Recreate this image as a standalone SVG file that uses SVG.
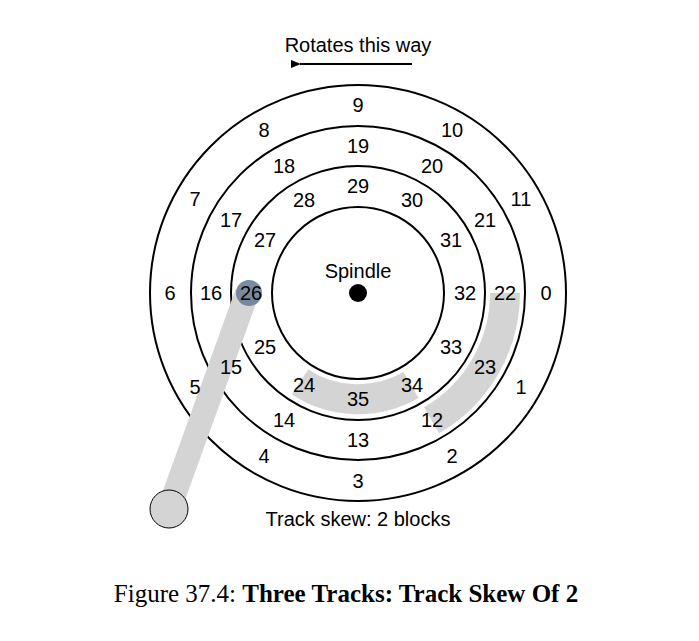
<svg xmlns="http://www.w3.org/2000/svg" width="699" height="641" viewBox="0 0 699 641">
<style>
.n{font-family:"Liberation Sans",Arial,sans-serif;font-size:20px;text-anchor:middle;dominant-baseline:central;fill:#000}
.r{fill:none;stroke:#000;stroke-width:2}
.band{fill:none;stroke:#d4d4d4;stroke-linecap:butt}
</style>
<defs><marker id="ah" markerWidth="10" markerHeight="8" refX="1" refY="4" orient="auto" markerUnits="userSpaceOnUse"><path d="M10,0 L0,4 L10,8 Z" fill="#000"/></marker></defs>
<rect width="699" height="641" fill="#fff"/>
<g id="bands">
<path class="band" stroke-width="30" d="M411,385 A106,106 0 0 1 300,382"/>
<path class="band" stroke-width="30" d="M505,293 A147,147 0 0 1 431.5,420.3"/>
</g>
<g id="tracks">
<circle class="r" cx="358" cy="293" r="208"/>
<circle class="r" cx="358" cy="293" r="167"/>
<circle class="r" cx="358" cy="293" r="127"/>
<circle class="r" cx="358" cy="293" r="86"/>
<circle cx="358" cy="293" r="9" fill="#000"/>
<text class="n" x="358" y="271">Spindle</text>
</g>
<g id="arm">
<line x1="169" y1="509" x2="247" y2="293" stroke="#d4d4d4" stroke-width="24"/>
<circle cx="169" cy="509" r="19" fill="#d4d4d4" stroke="#000" stroke-width="1"/>
<circle cx="249" cy="293" r="13" fill="#6c7f98" opacity="0.9"/>
</g>
<g id="labels">
<text class="n" x="546" y="293">0</text><text class="n" x="521" y="387">1</text><text class="n" x="452" y="456">2</text><text class="n" x="358" y="481">3</text><text class="n" x="264" y="456">4</text><text class="n" x="195" y="387">5</text><text class="n" x="170" y="293">6</text><text class="n" x="195" y="199">7</text><text class="n" x="264" y="130">8</text><text class="n" x="358" y="105">9</text><text class="n" x="452" y="130">10</text><text class="n" x="521" y="199">11</text>
<text class="n" x="432" y="420">12</text><text class="n" x="358" y="440">13</text><text class="n" x="284" y="420">14</text><text class="n" x="231" y="367">15</text><text class="n" x="211" y="293">16</text><text class="n" x="231" y="220">17</text><text class="n" x="284" y="166">18</text><text class="n" x="358" y="146">19</text><text class="n" x="432" y="166">20</text><text class="n" x="485" y="220">21</text><text class="n" x="505" y="293">22</text><text class="n" x="485" y="367">23</text>
<text class="n" x="304" y="385">24</text><text class="n" x="265" y="347">25</text><text class="n" x="251" y="293">26</text><text class="n" x="265" y="240">27</text><text class="n" x="304" y="200">28</text><text class="n" x="358" y="186">29</text><text class="n" x="412" y="200">30</text><text class="n" x="451" y="240">31</text><text class="n" x="465" y="293">32</text><text class="n" x="451" y="347">33</text><text class="n" x="412" y="385">34</text><text class="n" x="358" y="399">35</text>
</g>
<g id="legend">
<text class="n" x="358" y="45">Rotates this way</text>
<line x1="412" y1="64" x2="300" y2="64" stroke="#000" stroke-width="2" marker-end="url(#ah)"/>
<text class="n" x="358" y="519">Track skew: 2 blocks</text>
<text x="346" y="602" text-anchor="middle" font-family="Liberation Serif,serif" font-size="25">Figure 37.4: <tspan font-weight="bold">Three Tracks: Track Skew Of 2</tspan></text>
</g>
</svg>
